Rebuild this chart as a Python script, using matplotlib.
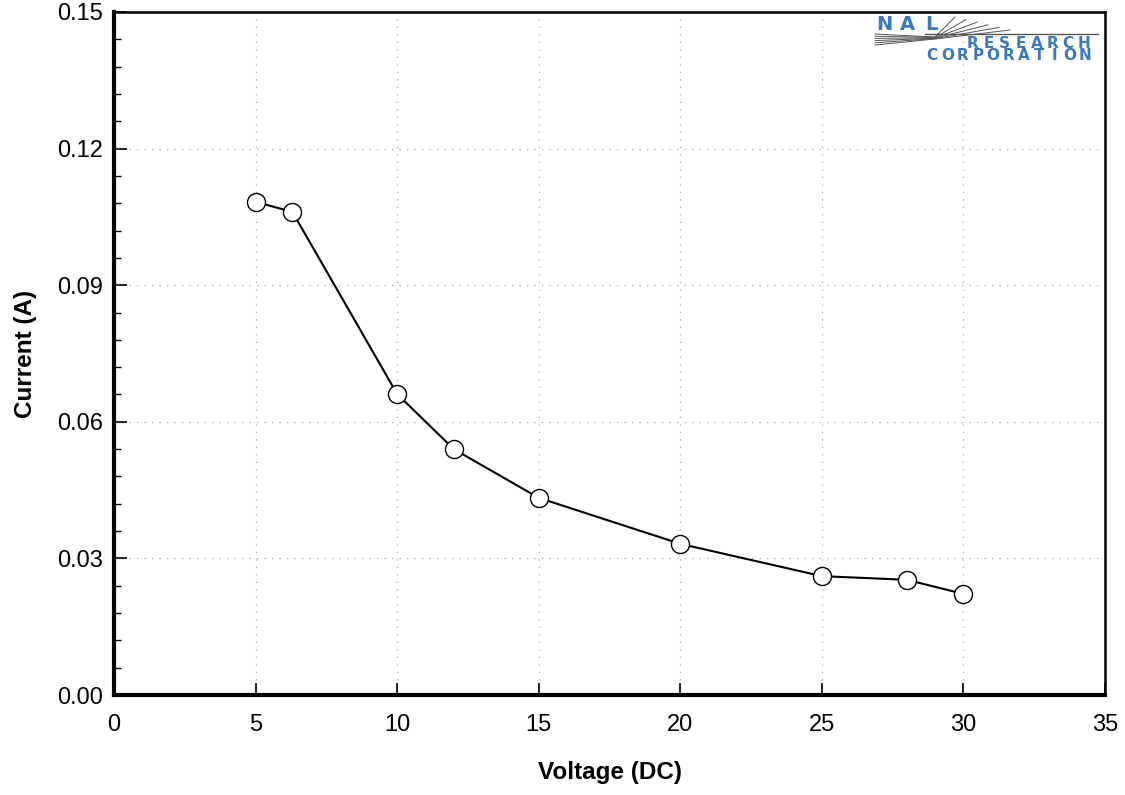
import matplotlib
matplotlib.use('Agg')
import matplotlib.pyplot as plt
from matplotlib.ticker import MultipleLocator, FormatStrFormatter
from matplotlib.lines import Line2D

# Data
voltage = [5, 6.3, 10, 12, 15, 20, 25, 28, 30]
current = [0.1083, 0.1061, 0.0661, 0.0540, 0.0433, 0.0332, 0.0261, 0.0253, 0.0222]

x_ticks = [0, 5, 10, 15, 20, 25, 30, 35]
y_ticks = [0.00, 0.03, 0.06, 0.09, 0.12, 0.15]

plt.rcParams['font.family'] = ['Liberation Sans', 'DejaVu Sans']

W, H = 1125, 795
fig = plt.figure(figsize=(W / 100, H / 100), dpi=100)
ax = fig.add_axes([114 / W, 1 - 695 / H, (1105 - 114) / W, (695 - 12) / H])

ax.plot(voltage, current, color='black', lw=1.5, marker='o', ms=13,
        mfc='white', mec='black', mew=1.0, zorder=3)

ax.set_xlim(0, 35)
ax.set_ylim(0, 0.15)
ax.set_xticks(x_ticks)
ax.set_yticks(y_ticks)
ax.yaxis.set_major_formatter(FormatStrFormatter('%.2f'))
ax.yaxis.set_minor_locator(MultipleLocator(0.006))
ax.tick_params(axis='both', which='major', direction='in', length=9, width=1.2,
               labelsize=17, pad=8, top=False, right=False)
ax.tick_params(axis='y', which='minor', direction='in', length=5, width=1.0)
ax.tick_params(axis='x', pad=14)

ax.grid(True, which='major', color='#aaaaaa', linestyle=(0, (1, 5)), lw=0.9)

ax.spines['left'].set_linewidth(3)
ax.spines['bottom'].set_linewidth(3)
ax.spines['top'].set_linewidth(1.8)
ax.spines['right'].set_linewidth(1.8)

ax.set_xlabel('Voltage (DC)', fontsize=17.5, fontweight='bold', labelpad=18)
ax.set_ylabel('Current (A)', fontsize=17.5, fontweight='bold', labelpad=14)


# NAL Research logo (rough approximation, pixel coords -> figure fraction)
def px(x, y):
    return x / W, 1 - y / H


blue = '#3a78c0'
grey = '#555555'


def spaced(text, x0, x1, y, size):
    step = (x1 - x0) / (len(text) - 1)
    for i, ch in enumerate(text):
        fx, fy = px(x0 + i * step, y)
        fig.text(fx, fy, ch, color=blue, fontsize=size, fontweight='bold',
                 family='DejaVu Sans', ha='center', va='center')


spaced('NAL', 884, 931, 24, 14)
spaced('RESEARCH', 973, 1084, 43, 11)
spaced('CORPORATION', 932, 1085, 56, 11)

for i in range(6):
    pts = [px(875, 34 + 2.2 * i), px(935, 37 + 0.4 * i), px(955 + 11 * i, 17 + 2.6 * i)]
    fig.add_artist(Line2D([p[0] for p in pts], [p[1] for p in pts],
                          transform=fig.transFigure, color=grey, lw=0.7))
hx0, hy = px(925, 34)
hx1, _ = px(1098, 34)
fig.add_artist(Line2D([hx0, hx1], [hy, hy], transform=fig.transFigure,
                      color=grey, lw=1.0))

fig.savefig('out.png', dpi=100)
